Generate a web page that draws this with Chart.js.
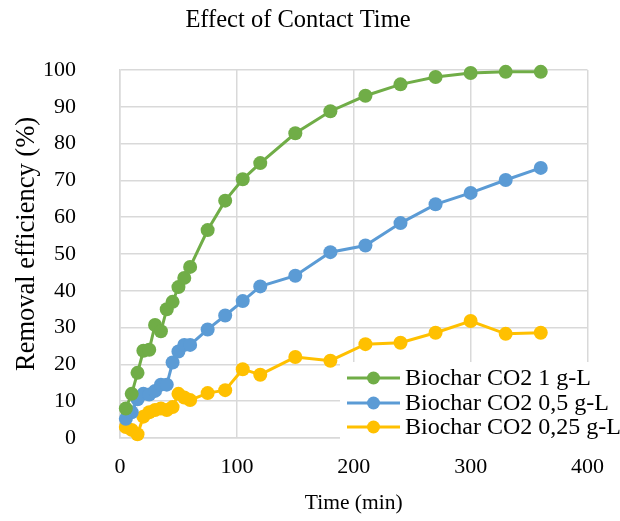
<!DOCTYPE html>
<html>
<head>
<meta charset="utf-8">
<script src="https://cdn.jsdelivr.net/npm/chart.js@4.4.1/dist/chart.umd.min.js"></script>
<style>
html,body{margin:0;padding:0;background:#fff;}
#wrap{width:620px;height:521px;position:relative;}
</style>
</head>
<body>
<div id="wrap"><canvas id="c" width="620" height="521"></canvas></div>
<script>
const times = [5,10,15,20,25,30,35,40,45,50,55,60,75,90,105,120,150,180,210,240,270,300,330,360];
const seriesNames = ['Biochar CO2 1 g-L','Biochar CO2 0,5 g-L','Biochar CO2 0,25 g-L'];
const eff1 = [8,12,17.7,23.7,24,30.7,29,35,37,41,43.5,46.5,56.5,64.5,70.3,74.7,82.8,88.8,93,96.1,98.1,99.2,99.5,99.5];
const eff05 = [5.2,7,10.5,12,11.8,12.8,14.5,14.5,20.5,23.5,25.3,25.3,29.5,33.3,37.2,41.2,44.1,50.5,52.3,58.4,63.5,66.6,70.1,73.4];
const eff025 = [3,2.2,1,5.8,7,7.6,8,7.6,8.4,12,11,10.3,12.2,13,18.7,17.2,22,21,25.5,25.9,28.6,31.8,28.3,28.6];
const xTicks = [0,100,200,300,400];
const yTicks = [0,10,20,30,40,50,60,70,80,90,100];
const colors = ['#70AD47','#5B9BD5','#FFC000'];
const yTitle = 'Removal efficiency (%)';

const FONT = "'Liberation Serif','Times New Roman',serif";
const toXY = arr => arr.map((v,i)=>({x:times[i], y:v}));
const datasets = [eff1, eff05, eff025].map((arr,i)=>({
  label: seriesNames[i],
  data: toXY(arr),
  borderColor: colors[i],
  backgroundColor: colors[i],
  pointBackgroundColor: colors[i],
  pointBorderColor: colors[i],
  borderWidth: 3,
  pointRadius: 7,
  pointBorderWidth: 0,
  tension: 0,
  clip: false
}));

const textPlugin = {
  id: 'customText',
  afterDraw(chart){
    const ctx = chart.ctx;
    ctx.save();
    // y-axis title
    ctx.save();
    ctx.translate(27, 244);
    ctx.rotate(-Math.PI/2);
    ctx.fillStyle = '#000';
    ctx.font = "26.5px " + FONT;
    ctx.textAlign = 'center';
    ctx.textBaseline = 'middle';
    ctx.fillText(yTitle, 0, 0);
    ctx.restore();
    // legend
    ctx.fillStyle = '#ffffff';
    ctx.fillRect(340, 362, 280, 80);
    const rows = [378, 403, 427];
    chart.data.datasets.forEach((ds, i) => {
      const y = rows[i];
      ctx.strokeStyle = ds.borderColor;
      ctx.lineWidth = 3;
      ctx.beginPath();
      ctx.moveTo(347, y);
      ctx.lineTo(400, y);
      ctx.stroke();
      ctx.fillStyle = ds.borderColor;
      ctx.beginPath();
      ctx.arc(373.5, y, 6.5, 0, Math.PI*2);
      ctx.fill();
      ctx.fillStyle = '#000';
      ctx.font = "24px " + FONT;
      ctx.textBaseline = 'middle';
      ctx.textAlign = 'left';
      ctx.fillText(ds.label, 405, y + 1);
    });
    ctx.restore();
  }
};

new Chart(document.getElementById('c'), {
  type: 'line',
  data: { datasets },
  plugins: [textPlugin],
  options: {
    responsive: false,
    animation: false,
    devicePixelRatio: 1,
    layout: { padding: { left: 0, right: 24, top: 0, bottom: 0 } },
    plugins: {
      legend: { display: false },
      tooltip: { enabled: false },
      title: {
        display: true,
        text: 'Effect of Contact Time',
        color: '#000',
        font: { family: FONT, size: 24.5, weight: 'normal' },
        padding: { top: 6, bottom: 34.6 }
      }
    },
    scales: {
      x: {
        type: 'linear',
        min: 0, max: 400,
        afterBuildTicks: s => { s.ticks = xTicks.map(v=>({value:v})); },
        afterFit: s => { s.height = 83; },
        grid: { color: '#d9d9d9', lineWidth: 1.5, drawTicks: false },
        border: { color: '#d9d9d9', width: 1.5 },
        ticks: { color: '#000', font: { family: FONT, size: 22 }, padding: 16, maxRotation: 0 },
        title: { display: true, text: 'Time (min)', color: '#000', font: { family: FONT, size: 21.5 }, padding: { top: 0, bottom: 5 } }
      },
      y: {
        type: 'linear',
        min: 0, max: 100,
        afterBuildTicks: s => { s.ticks = yTicks.map(v=>({value:v})); },
        afterFit: s => { s.width = 120; },
        grid: { color: '#d9d9d9', lineWidth: 1.5, drawTicks: false },
        border: { color: '#d9d9d9', width: 1.5 },
        ticks: { color: '#000', font: { family: FONT, size: 22 }, padding: 44 },
        title: { display: false }
      }
    }
  }
});
</script>
</body>
</html>
